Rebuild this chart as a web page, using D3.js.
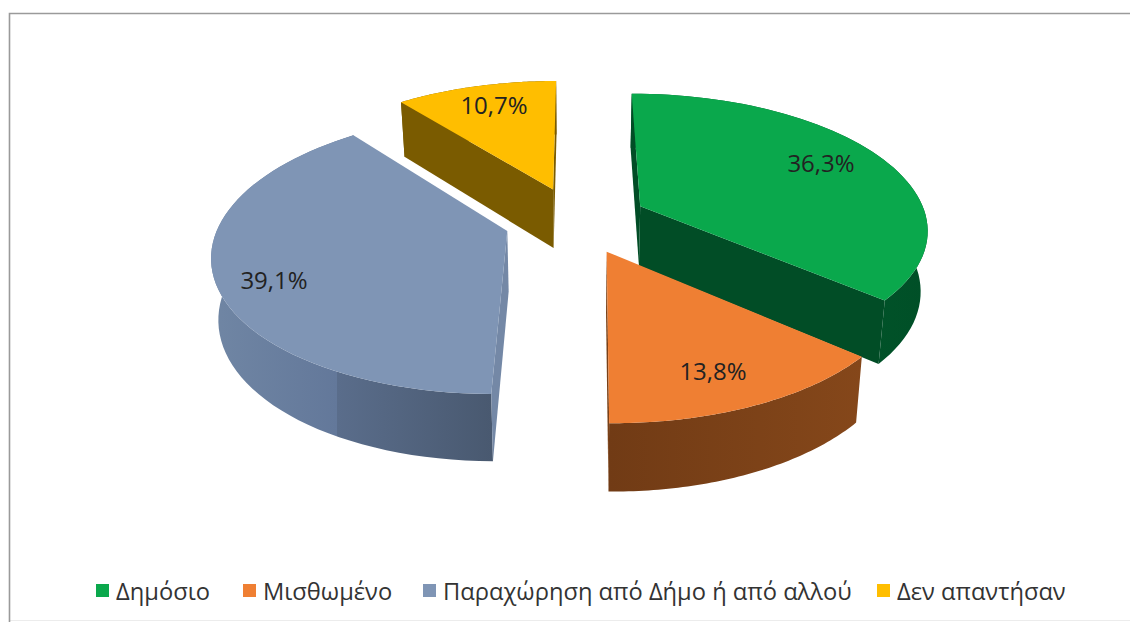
<!DOCTYPE html>
<html>
<head>
<meta charset="utf-8">
<script src="https://cdn.jsdelivr.net/npm/d3@7"></script>
<style>
    html, body { margin: 0; padding: 0; background: #fff; }
    svg { display: block; }
    text { font-family: "Open Sans", sans-serif; }
</style>
</head>
<body>
<script>
var categories = ["Δημόσιο", "Μισθωμένο", "Παραχώρηση από Δήμο ή από αλλού", "Δεν απαντήσαν"];
var shares = [36.3, 13.8, 39.1, 10.7];
var shareLabels = ["36,3%", "13,8%", "39,1%", "10,7%"];
var topColors = ["#0aa84c", "#ef7f33", "#7f95b5", "#ffbe00"];
var wallColors = [["#03602f", "#004f27"], ["#713b15", "#85471a"], ["#7086a4", "#63789a", "#5a6d8b", "#495970"], ["#7a5c00", "#6e5300"]];
var cutColors = ["#014d26", "#7a4016", "#7488a6", "#7a5b00"];
var labelSpots = [[821, 163], [713, 371], [274, 280], [494, 105]];
var legendX = [96, 243, 423, 877];

var width = 1130, height = 622,
    explode = 0.25, //how far each slice is pulled out, in radii
    perspective = 0.155, //far side shrinks, near side grows
    wallDepth = 60,
    wallTaper = 0.02, //wall bottoms lean in towards the middle
    blueSeam = 0.45;

var xScale = d3.scaleLinear().domain([-1, 1]).range([576 - 287, 576 + 287]),
    yScale = d3.scaleLinear().domain([-1, 1]).range([220 + 134, 220 - 134]);

// ground plane point -> screen, h is how far down the wall it sits
function project(X, Z, h) {
    h = h || 0;
    var w = 1 + perspective * Z;
    return [xScale(X / w * (1 - wallTaper * h)), yScale(Z / w) + h * wallDepth / (1 + 0.1 * Z)];
}

var svg = d3.select("body").append("svg")
    .attr("width", width)
    .attr("height", height);

var line = d3.line();
var defs = svg.append("defs");

var slices = d3.pie().sort(null).value(function(d) { return d; })(shares);

// far slices first so near ones sit on top of them
var drawOrder = [3, 0, 2, 1];

drawOrder.forEach(function(i) {
    var s = slices[i],
        mid = (s.startAngle + s.endAngle) / 2,
        ox = explode * Math.sin(mid),
        oz = explode * Math.cos(mid);

    function at(angle, r, h) {
        return project(ox + r * Math.sin(angle), oz + r * Math.cos(angle), h);
    }

    var angles = d3.range(0, 61).map(function(k) {
        return s.startAngle + (s.endAngle - s.startAngle) * k / 60;
    });

    var g = svg.append("g").attr("class", "slice");

    var gradId = "wall" + i;
    var xs = angles.map(function(a) { return at(a, 1, 0)[0]; });
    var grad = defs.append("linearGradient")
        .attr("id", gradId)
        .attr("gradientUnits", "userSpaceOnUse")
        .attr("x1", d3.min(xs)).attr("x2", d3.max(xs))
        .attr("y1", 0).attr("y2", 0);
    var offsets = wallColors[i].length === 4 ? [0, blueSeam, blueSeam, 1] : [0, 1];
    wallColors[i].forEach(function(c, k) {
        grad.append("stop").attr("offset", offsets[k]).attr("stop-color", c);
    });

    // outer wall
    var wall = angles.map(function(a) { return at(a, 1, 0); })
        .concat(angles.slice().reverse().map(function(a) { return at(a, 1, 1); }));
    g.append("path").attr("d", line(wall) + "Z").attr("fill", "url(#" + gradId + ")");

    // the two cut faces, only when they look at the viewer
    var inner = at(mid, 0.5, 0);
    [s.startAngle, s.endAngle].forEach(function(a) {
        var p0 = at(a, 0, 0), p1 = at(a, 1, 0), d0 = at(a, 0, 1), d1 = at(a, 1, 1);
        function side(p) {
            return (p1[0] - p0[0]) * (p[1] - p0[1]) - (p1[1] - p0[1]) * (p[0] - p0[0]);
        }
        if (side(d0) * side(inner) < 0 || side(d1) * side(inner) < 0) {
            g.append("path").attr("d", line([p0, p1, d1, d0]) + "Z").attr("fill", cutColors[i]);
        }
    });

    // top face
    var face = [at(s.startAngle, 0, 0)].concat(angles.map(function(a) { return at(a, 1, 0); }));
    g.append("path").attr("d", line(face) + "Z").attr("fill", topColors[i]);
});

// frame, top and left are strong, the bottom barely shows
svg.append("path")
    .attr("d", "M9.5,620.5H1130")
    .attr("fill", "none")
    .attr("stroke", "#ececec");
svg.append("path")
    .attr("d", "M9.5,622V13.5H1130")
    .attr("fill", "none")
    .attr("stroke", "#9a9a9a")
    .attr("stroke-width", 1.6);

svg.selectAll(".pctLabel")
    .data(shareLabels)
    .enter()
    .append("text")
    .attr("class", "pctLabel")
    .attr("x", function(d, i) { return labelSpots[i][0]; })
    .attr("y", function(d, i) { return labelSpots[i][1]; })
    .attr("dy", "0.36em")
    .attr("text-anchor", "middle")
    .attr("font-size", 24)
    .attr("fill", "#222")
    .text(function(d) { return d; });

var legend = svg.selectAll(".legendItem")
    .data(categories)
    .enter()
    .append("g")
    .attr("class", "legendItem")
    .attr("transform", function(d, i) { return "translate(" + legendX[i] + ",591)"; });

legend.append("rect")
    .attr("x", 0)
    .attr("y", -7)
    .attr("width", 13)
    .attr("height", 13)
    .attr("fill", function(d, i) { return topColors[i]; });

legend.append("text")
    .attr("x", 20)
    .attr("dy", "0.36em")
    .attr("font-size", 23.7)
    .attr("fill", "#333")
    .text(function(d) { return d; });
</script>
</body>
</html>
